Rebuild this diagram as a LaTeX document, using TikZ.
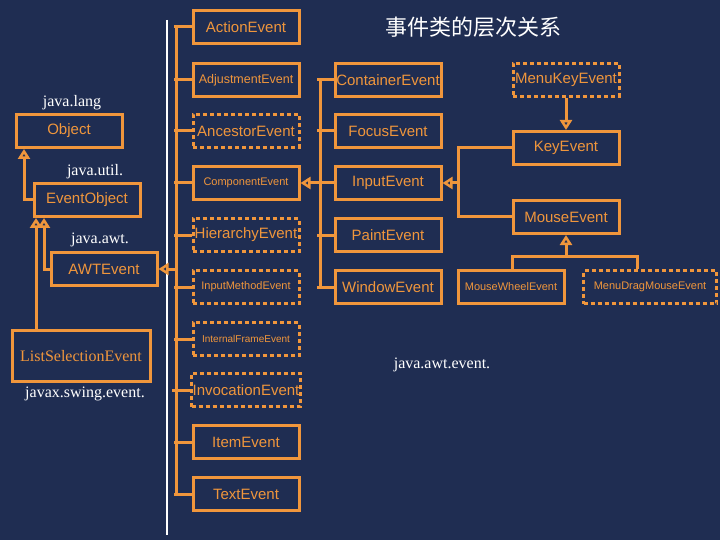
\documentclass[tikz,border=0pt]{standalone}
\usepackage{fontspec}
\setmainfont{Liberation Serif}
\newfontfamily\boxfont{Liberation Sans}
\newfontfamily\cjk{Noto Sans CJK SC}
\usetikzlibrary{arrows.meta}
\definecolor{bg}{HTML}{1F2D52}
\definecolor{org}{HTML}{F0963C}
\begin{document}
\begin{tikzpicture}[x=1pt,y=-1pt,
  box/.style={draw=org,line width=3pt,fill=bg,text=org,minimum width=106pt,minimum height=33pt,inner sep=1pt,font=\boxfont\fontsize{15}{16}\selectfont},
  dbox/.style={box,dash pattern=on 4pt off 3pt},
  sm/.style={font=\boxfont\fontsize{11}{12}\selectfont},
  xs/.style={font=\boxfont\fontsize{10}{11}\selectfont},
  md/.style={font=\boxfont\fontsize{12.5}{13}\selectfont},
  nm/.style={},
  ln/.style={draw=org,line width=3pt},
  inh/.style={ln,-{Triangle[open,length=10pt,width=12pt,line width=2.5pt]}},
  lab/.style={text=white,font=\fontsize{16}{18}\selectfont}]
\fill[bg] (0,0) rectangle (720,540);
\useasboundingbox (0,0) rectangle (720,540);
\draw[white,line width=2pt] (167,20) -- (167,535);
% column 1
\foreach \n/\t/\y/\s/\f in {ae/ActionEvent/27/box/nm,adj/AdjustmentEvent/80/box/md,anc/AncestorEvent/131/dbox/nm,comp/ComponentEvent/183/box/sm,hier/HierarchyEvent/235/dbox/nm,ime/InputMethodEvent/287/dbox/sm,ife/InternalFrameEvent/339/dbox/xs,inv/InvocationEvent/390/dbox/nm,item/ItemEvent/442/box/nm,txt/TextEvent/494/box/nm}{
  \node[\s,\f] (\n) at (246,\y) {\t};
  \draw[ln] (\n.west) -- ++(-18,0);
}
\coordinate (b1t) at (176,27); \coordinate (b1b) at (176,494); \coordinate (b1m) at (176,269);
\draw[ln] (b1t) -- (b1b);
% left side
\node[box] (obj) at (69,131) {Object};
\node[box] (eo) at (87,200) {EventObject};
\node[box] (awt) at (104,269) {AWTEvent};
\node[box,minimum width=138pt,minimum height=51pt,font=\fontsize{16}{18}\selectfont] (lse) at (81,356) {ListSelectionEvent};
\draw[inh] (b1m) -- (awt.east);
\coordinate (c1) at (24,200);
\draw[inh] (eo.west) -- (c1) -- (c1 |- obj.south);
\coordinate (c2) at (44,269);
\draw[inh] (awt.west) -- (c2) -- (c2 |- eo.south);
\coordinate (c3) at (36,330);
\draw[inh] (c3) -- (c3 |- eo.south);
% column 2
\foreach \n/\t/\y in {ce/ContainerEvent/80,fe/FocusEvent/131,ie/InputEvent/183,pe/PaintEvent/235,we/WindowEvent/287}{
  \node[box] (\n) at (388,\y) {\t};
  \draw[ln] (\n.west) -- ++(-17,0);
}
\coordinate (b2t) at (320,80); \coordinate (b2b) at (320,287); \coordinate (b2m) at (320,183);
\draw[ln] (b2t) -- (b2b);
\draw[inh] (b2m) -- (comp.east);
% column 3
\node[dbox] (mke) at (566,80) {MenuKeyEvent};
\node[box] (ke) at (566,148) {KeyEvent};
\node[box] (me) at (566,217) {MouseEvent};
\node[box,sm] (mwe) at (511,287) {MouseWheelEvent};
\node[dbox,sm,minimum width=133pt] (mdme) at (650,287) {MenuDragMouseEvent};
\draw[inh] (mke.south) -- (ke.north);
\coordinate (b3t) at (458,148); \coordinate (b3b) at (458,217); \coordinate (b3m) at (458,183);
\draw[ln] (ke.west) -- (b3t) -- (b3b) -- (me.west);
\draw[inh] (b3m) -- (ie.east);
\coordinate (h1) at (512,256); \coordinate (h2) at (637,256); \coordinate (h3) at (566,256);
\draw[ln] (mwe.north -| h1) -- (h1) -- (h2) -- (mdme.north -| h2);
\draw[inh] (h3) -- (me.south);
% labels
\node[text=white,font=\cjk\fontsize{22}{24}\selectfont] (title) at (473,27) {事件类的层次关系};
\node[lab] (l1) at (72,103) {java.lang};
\node[lab] (l2) at (95,172) {java.util.};
\node[lab] (l3) at (100,240) {java.awt.};
\node[lab] (l4) at (85,394) {javax.swing.event.};
\node[lab] (l5) at (442,365) {java.awt.event.};
\end{tikzpicture}
\end{document}
